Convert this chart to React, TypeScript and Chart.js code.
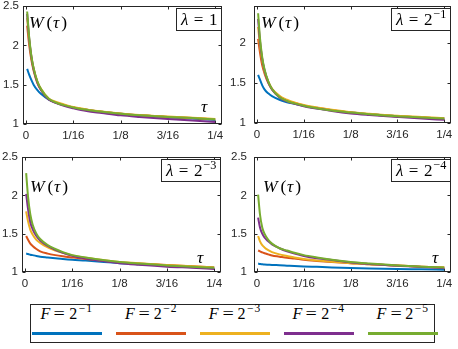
import React, { useEffect, useRef } from "react";
import { Chart, registerables } from "chart.js";

Chart.register(...registerables);

// ---------- data ----------
const tau = [0.0015, 0.004, 0.007, 0.01, 0.015, 0.02, 0.03, 0.04, 0.05, 0.0625, 0.08, 0.1, 0.125, 0.15, 0.1875, 0.22, 0.25];

const seriesExponents = ["\u22121", "\u22122", "\u22123", "\u22124", "\u22125"];
const seriesColors = ["#0072BD", "#D95319", "#EDB120", "#7E2F8E", "#77AC30"];

const xTickValues = [0, 1 / 16, 1 / 8, 3 / 16, 1 / 4];
const xTickLabels = ["0", "1/16", "1/8", "3/16", "1/4"];
const yTickValuesFull = [1, 1.5, 2, 2.5];
const yTickValuesShort = [1, 1.5, 2];

// lambda = 1
const lam1F1 = [1.70, 1.63, 1.56, 1.50, 1.43, 1.38, 1.31, 1.27, 1.24, 1.21, 1.18, 1.155, 1.13, 1.11, 1.085, 1.07, 1.05];
const lam1F2 = [2.25, 2.02, 1.82, 1.68, 1.52, 1.43, 1.315, 1.27, 1.24, 1.21, 1.18, 1.155, 1.13, 1.11, 1.09, 1.075, 1.06];
const lam1F3 = [2.35, 2.08, 1.86, 1.71, 1.54, 1.445, 1.325, 1.28, 1.25, 1.215, 1.185, 1.16, 1.135, 1.115, 1.095, 1.08, 1.065];
const lam1F4 = [2.40, 2.10, 1.86, 1.70, 1.53, 1.43, 1.31, 1.265, 1.23, 1.20, 1.165, 1.14, 1.11, 1.09, 1.065, 1.045, 1.025];
const lam1F5 = [2.43, 2.12, 1.87, 1.71, 1.54, 1.44, 1.32, 1.27, 1.24, 1.21, 1.18, 1.155, 1.13, 1.11, 1.09, 1.075, 1.06];

// lambda = 2^-1
const lam2F1 = [1.60, 1.54, 1.47, 1.42, 1.37, 1.335, 1.29, 1.26, 1.24, 1.215, 1.185, 1.16, 1.13, 1.11, 1.085, 1.07, 1.055];
const lam2F2 = [2.05, 1.88, 1.72, 1.62, 1.50, 1.42, 1.33, 1.28, 1.25, 1.22, 1.19, 1.16, 1.13, 1.11, 1.085, 1.07, 1.055];
const lam2F3 = [2.20, 1.97, 1.78, 1.65, 1.52, 1.43, 1.34, 1.29, 1.255, 1.225, 1.195, 1.165, 1.135, 1.115, 1.09, 1.075, 1.06];
const lam2F4 = [2.30, 2.02, 1.80, 1.66, 1.51, 1.42, 1.32, 1.27, 1.24, 1.21, 1.18, 1.15, 1.12, 1.10, 1.075, 1.055, 1.04];
const lam2F5 = [2.37, 2.06, 1.82, 1.67, 1.52, 1.425, 1.325, 1.275, 1.245, 1.215, 1.185, 1.155, 1.13, 1.11, 1.085, 1.07, 1.055];

// lambda = 2^-3
const lam3F1 = [1.24, 1.235, 1.225, 1.22, 1.21, 1.20, 1.19, 1.18, 1.17, 1.16, 1.15, 1.135, 1.115, 1.10, 1.085, 1.07, 1.055];
const lam3F2 = [1.47, 1.42, 1.37, 1.34, 1.30, 1.27, 1.24, 1.22, 1.205, 1.19, 1.17, 1.15, 1.125, 1.11, 1.09, 1.075, 1.06];
const lam3F3 = [1.79, 1.66, 1.55, 1.49, 1.42, 1.38, 1.32, 1.28, 1.25, 1.215, 1.185, 1.16, 1.13, 1.115, 1.09, 1.075, 1.06];
const lam3F4 = [2.02, 1.82, 1.65, 1.56, 1.47, 1.41, 1.34, 1.29, 1.25, 1.21, 1.175, 1.145, 1.115, 1.095, 1.07, 1.055, 1.04];
const lam3F5 = [2.29, 1.98, 1.75, 1.62, 1.50, 1.43, 1.35, 1.30, 1.26, 1.22, 1.19, 1.16, 1.13, 1.11, 1.085, 1.07, 1.055];

// lambda = 2^-4
const lam4F1 = [1.11, 1.105, 1.10, 1.098, 1.095, 1.092, 1.088, 1.083, 1.078, 1.073, 1.067, 1.06, 1.053, 1.047, 1.04, 1.035, 1.03];
const lam4F2 = [1.28, 1.27, 1.255, 1.245, 1.23, 1.215, 1.20, 1.185, 1.175, 1.16, 1.145, 1.13, 1.115, 1.10, 1.085, 1.07, 1.06];
const lam4F3 = [1.47, 1.40, 1.35, 1.32, 1.285, 1.26, 1.23, 1.21, 1.19, 1.17, 1.15, 1.135, 1.115, 1.10, 1.085, 1.07, 1.06];
const lam4F4 = [1.71, 1.58, 1.50, 1.45, 1.40, 1.36, 1.31, 1.27, 1.24, 1.21, 1.18, 1.155, 1.125, 1.105, 1.08, 1.065, 1.05];
const lam4F5 = [2.01, 1.75, 1.58, 1.50, 1.42, 1.37, 1.31, 1.28, 1.25, 1.22, 1.19, 1.16, 1.13, 1.11, 1.085, 1.07, 1.06];

// ---------- layout / style ----------
const AXIS_COLOR = "#262626";
const TICK_FONT = '"Liberation Sans", Arial, Helvetica, sans-serif';
const MATH_FONT = '"Liberation Serif", "Times New Roman", "DejaVu Serif", serif';

type Run = { t: string; it?: boolean; sup?: boolean; gap?: number };

function drawRuns(ctx: CanvasRenderingContext2D, runs: Run[], x: number, y: number, size: number, draw = true) {
  let cx = x;
  for (const r of runs) {
    const fs = r.sup ? size * 0.72 : size;
    ctx.font = `${r.it ? "italic " : ""}${fs}px ${MATH_FONT}`;
    const yy = r.sup ? y - size * 0.42 : y;
    if (draw) ctx.fillText(r.t, cx, yy);
    cx += ctx.measureText(r.t).width + (r.gap ?? 0);
  }
  return cx - x;
}

type PanelCfg = {
  left: number;
  top: number;
  width: number;
  height: number;
  padTop: number;
  padRight: number;
  yWidth: number;
  xHeight: number;
  yLabelPad: number;
  yMax: number;
  yTicks: number[];
  series: number[][];
  lamRuns: Run[];
  lamTop: number;
  wDx: number;
  wDy: number;
  showTau: boolean;
  tauDx: number;
  tauDy: number;
};

const lamOne: Run[] = [{ t: "\u03BB", it: true, gap: 5.5 }, { t: "=", gap: 5.5 }, { t: "1" }];
const lamPow = (e: string): Run[] => [
  { t: "\u03BB", it: true, gap: 5.5 },
  { t: "=", gap: 5.5 },
  { t: "2", gap: 1 },
  { t: e, sup: true },
];

const panels: PanelCfg[] = [
  {
    left: 0, top: 0, width: 229, height: 145, padTop: 6, padRight: 7, yWidth: 23, xHeight: 21, yLabelPad: 4,
    yMax: 2.5, yTicks: yTickValuesFull, series: [lam1F1, lam1F2, lam1F3, lam1F4, lam1F5],
    lamRuns: lamOne, lamTop: 2, wDx: 6, wDy: 22, showTau: true, tauDx: -21, tauDy: -12,
  },
  {
    left: 229, top: 0, width: 229, height: 145, padTop: 6, padRight: 7, yWidth: 25, xHeight: 22, yLabelPad: 8,
    yMax: 2.46, yTicks: yTickValuesShort, series: [lam2F1, lam2F2, lam2F3, lam2F4, lam2F5],
    lamRuns: lamPow("\u22121"), lamTop: 2, wDx: 7, wDy: 22, showTau: false, tauDx: -20, tauDy: -12,
  },
  {
    left: 0, top: 145, width: 229, height: 155, padTop: 12, padRight: 8, yWidth: 22, xHeight: 28, yLabelPad: 4,
    yMax: 2.5, yTicks: yTickValuesFull, series: [lam3F1, lam3F2, lam3F3, lam3F4, lam3F5],
    lamRuns: lamPow("\u22123"), lamTop: 1.5, wDx: 8, wDy: 35, showTau: true, tauDx: -24, tauDy: -9,
  },
  {
    left: 229, top: 145, width: 229, height: 155, padTop: 12, padRight: 7, yWidth: 25, xHeight: 28, yLabelPad: 7,
    yMax: 2.5, yTicks: yTickValuesFull, series: [lam4F1, lam4F2, lam4F3, lam4F4, lam4F5],
    lamRuns: lamPow("\u22124"), lamTop: 1.5, wDx: 9, wDy: 35, showTau: true, tauDx: -19, tauDy: -9,
  },
];

const X_MIN = -0.004;
const X_MAX = 0.259;
const LABEL_SIZE = 17.5;
const LAMBDA_SIZE = 17;

const framePlugin = {
  id: "matlabFrame",
  beforeDatasetsDraw(chart: any) {
    const { ctx, chartArea: a, scales } = chart;
    ctx.save();
    ctx.strokeStyle = AXIS_COLOR;
    ctx.lineWidth = 1;
    const l = Math.round(a.left) + 0.5;
    const r = Math.round(a.right) - 0.5;
    const t = Math.round(a.top) + 0.5;
    const b = Math.round(a.bottom) - 0.5;
    ctx.strokeRect(l, t, r - l, b - t);
    const tl = 3;
    ctx.beginPath();
    for (const v of xTickValues) {
      const px = Math.round(scales.x.getPixelForValue(v)) + 0.5;
      ctx.moveTo(px, b);
      ctx.lineTo(px, b - tl);
      ctx.moveTo(px, t);
      ctx.lineTo(px, t + tl);
    }
    for (const tk of scales.y.ticks) {
      const py = Math.round(scales.y.getPixelForValue(tk.value)) + 0.5;
      ctx.moveTo(l, py);
      ctx.lineTo(l + tl, py);
      ctx.moveTo(r, py);
      ctx.lineTo(r - tl, py);
    }
    ctx.stroke();
    ctx.restore();
  },
  afterDatasetsDraw(chart: any, _args: any, opts: any) {
    const cfg: PanelCfg = opts.cfg;
    const { ctx, chartArea: a } = chart;
    ctx.save();
    ctx.fillStyle = "#000";
    ctx.textBaseline = "alphabetic";
    ctx.textAlign = "left";
    // W(tau)
    drawRuns(
      ctx,
      [{ t: "W", it: true, gap: 3 }, { t: "(", gap: 0.5 }, { t: "\u03C4", it: true, gap: 2 }, { t: ")" }],
      a.left + cfg.wDx,
      a.top + cfg.wDy,
      LABEL_SIZE
    );
    // tau
    if (cfg.showTau) {
      drawRuns(ctx, [{ t: "\u03C4", it: true }], a.right + cfg.tauDx, a.bottom + cfg.tauDy, LABEL_SIZE);
    }
    // lambda box
    const w = drawRuns(ctx, cfg.lamRuns, 0, 0, LAMBDA_SIZE, false);
    const bw = Math.round(w + 10);
    const bh = 23;
    const bx = Math.round(a.right) - bw;
    const by = Math.round(a.top + cfg.lamTop);
    ctx.fillStyle = "#fff";
    ctx.fillRect(bx, by, bw, bh);
    ctx.strokeStyle = AXIS_COLOR;
    ctx.lineWidth = 1;
    ctx.strokeRect(bx + 0.5, by + 0.5, bw - 1, bh - 1);
    ctx.fillStyle = "#000";
    drawRuns(ctx, cfg.lamRuns, bx + 5, by + 17, LAMBDA_SIZE);
    ctx.restore();
  },
};

function Panel({ cfg }: { cfg: PanelCfg }) {
  const ref = useRef<HTMLCanvasElement | null>(null);
  useEffect(() => {
    if (!ref.current) return;
    const datasets = cfg.series.map((vals, i) => ({
      label: `F = 2^${seriesExponents[i]}`,
      data: tau.map((t, k) => ({ x: t, y: vals[k] })),
      borderColor: seriesColors[i],
      backgroundColor: seriesColors[i],
      borderWidth: 2,
      pointRadius: 0,
      fill: false,
      cubicInterpolationMode: "monotone" as const,
      order: 5 - i,
    }));
    const chart = new Chart(ref.current, {
      type: "line",
      data: { datasets },
      options: {
        animation: false,
        responsive: false,
        devicePixelRatio: 1,
        layout: { padding: { left: 0, right: cfg.padRight, top: cfg.padTop, bottom: 0 } },
        plugins: {
          legend: { display: false },
          tooltip: { enabled: false },
          matlabFrame: { cfg },
        } as any,
        scales: {
          x: {
            type: "linear",
            min: X_MIN,
            max: X_MAX,
            grid: { display: false, drawTicks: false },
            border: { display: false },
            afterBuildTicks: (s: any) => {
              s.ticks = xTickValues.map((v) => ({ value: v }));
            },
            afterFit: (s: any) => {
              s.height = cfg.xHeight;
              s.paddingLeft = 0;
              s.paddingRight = 0;
            },
            ticks: {
              autoSkip: false,
              maxRotation: 0,
              padding: 5,
              color: AXIS_COLOR,
              font: { family: TICK_FONT, size: 11.5 },
              callback: (_v: any, i: number) => xTickLabels[i],
            },
          },
          y: {
            type: "linear",
            min: 1,
            max: cfg.yMax,
            grid: { display: false, drawTicks: false },
            border: { display: false },
            afterBuildTicks: (s: any) => {
              s.ticks = cfg.yTicks.map((v) => ({ value: v }));
            },
            afterFit: (s: any) => {
              s.width = cfg.yWidth;
              s.paddingTop = 0;
              s.paddingBottom = 0;
            },
            ticks: {
              autoSkip: false,
              padding: cfg.yLabelPad,
              color: AXIS_COLOR,
              font: { family: TICK_FONT, size: 11.5 },
              callback: (v: any) => String(v),
            },
          },
        },
      },
      plugins: [framePlugin],
    });
    return () => chart.destroy();
  }, [cfg]);
  return (
    <canvas
      ref={ref}
      width={cfg.width}
      height={cfg.height}
      style={{ position: "absolute", left: cfg.left, top: cfg.top, width: cfg.width, height: cfg.height }}
    />
  );
}

const legendCenters = [66.7, 151.2, 235, 318.7, 402.8];
const LEGEND_LEFT = 30;

function Legend() {
  return (
    <div
      style={{
        position: "absolute",
        left: LEGEND_LEFT,
        top: 304,
        width: 405,
        height: 39,
        boxSizing: "border-box",
        border: `1px solid ${AXIS_COLOR}`,
        background: "#fff",
      }}
    >
      {seriesExponents.map((e, i) => (
        <React.Fragment key={i}>
          <div
            style={{
              position: "absolute",
              left: legendCenters[i] - LEGEND_LEFT - 1,
              top: 0.5,
              transform: "translateX(-50%)",
              whiteSpace: "nowrap",
              fontFamily: MATH_FONT,
              fontSize: 16,
              lineHeight: "16px",
              color: "#000",
            }}
          >
            <i style={{ marginRight: 5 }}>F</i>
            <span style={{ display: "inline-block", transform: "scaleX(1.25)", marginRight: 5 }}>=</span>
            <span style={{ marginRight: 1.5 }}>2</span>
            <span style={{ fontSize: 11.5, position: "relative", top: -6.5, letterSpacing: 1 }}>{e}</span>
          </div>
          <div
            style={{
              position: "absolute",
              left: legendCenters[i] - LEGEND_LEFT - 1 - 35,
              top: 27,
              width: 70,
              height: 3,
              background: seriesColors[i],
            }}
          />
        </React.Fragment>
      ))}
    </div>
  );
}

export default function App() {
  return (
    <div style={{ position: "fixed", left: 0, top: 0, width: 458, height: 349, background: "#fff", overflow: "hidden" }}>
      {panels.map((p, i) => (
        <Panel key={i} cfg={p} />
      ))}
      <Legend />
    </div>
  );
}
